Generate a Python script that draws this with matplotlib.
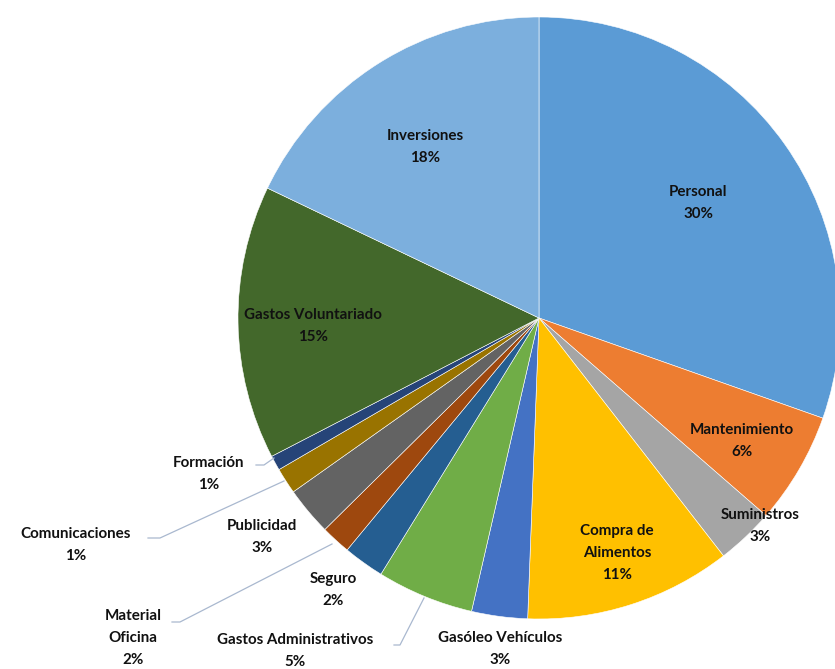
import matplotlib
matplotlib.use("Agg")
import matplotlib.pyplot as plt

categories = ["Personal", "Mantenimiento", "Suministros", "Compra de\nAlimentos",
              "Gasóleo Vehículos", "Gastos Administrativos", "Seguro",
              "Material\nOficina", "Publicidad", "Comunicaciones", "Formación",
              "Gastos Voluntariado", "Inversiones"]
values = [30.4, 6.0, 3.1, 11.1, 3.0, 5.2, 2.2, 1.6, 2.6, 1.4, 0.8, 14.7, 17.9]
pct_labels = ["30%", "6%", "3%", "11%", "3%", "5%", "2%", "2%", "3%", "1%", "1%", "15%", "18%"]
colors = ["#5B9BD5", "#ED7D31", "#A5A5A5", "#FFC000", "#4472C4", "#70AD47",
          "#255E91", "#9E480E", "#636363", "#997300", "#264478", "#43682B", "#7CAFDD"]

W, H = 835, 669
fig = plt.figure(figsize=(W / 100, H / 100), dpi=100)
ax = fig.add_axes([0, 0, 1, 1])

cx, cy, r = 539, H - 318, 301
ax.pie(values, colors=colors, startangle=90, counterclock=False,
       center=(cx, cy), radius=r, frame=True,
       wedgeprops=dict(edgecolor="white", linewidth=0.4))
ax.set_xlim(0, W)
ax.set_ylim(0, H)
ax.set_aspect("equal")
ax.axis("off")

# label positions (pixel coords, top-left origin)
pos = {
    0: (698, 203), 1: (742, 441), 2: (760, 526), 3: (617, 553),
    4: (500, 649), 5: (295, 651), 6: (333, 590), 7: (133, 638),
    8: (262, 537), 9: (76, 545), 10: (209, 474), 11: (313, 326), 12: (425, 147),
}
font = dict(family=["Lato", "DejaVu Sans"], fontweight="bold", fontsize=10.9,
            color="#111111", ha="center", va="center", linespacing=1.76)
for i, (x, y) in pos.items():
    ax.text(x, H - y, categories[i] + "\n" + pct_labels[i], **font)

leader = dict(color="#A9B8CF", lw=0.9)
lines = [
    [(256, 465), (264, 465), (274, 458)],        # Formación
    [(148, 538), (160, 538), (284, 481)],        # Comunicaciones
    [(172, 622), (180, 622), (332, 544)],        # Material Oficina
    [(394, 645), (400, 645), (424, 598)],        # Gastos Administrativos
]
for pts in lines:
    xs = [p[0] for p in pts]
    ys = [H - p[1] for p in pts]
    ax.plot(xs, ys, **leader)

fig.savefig("out.png", dpi=100)
